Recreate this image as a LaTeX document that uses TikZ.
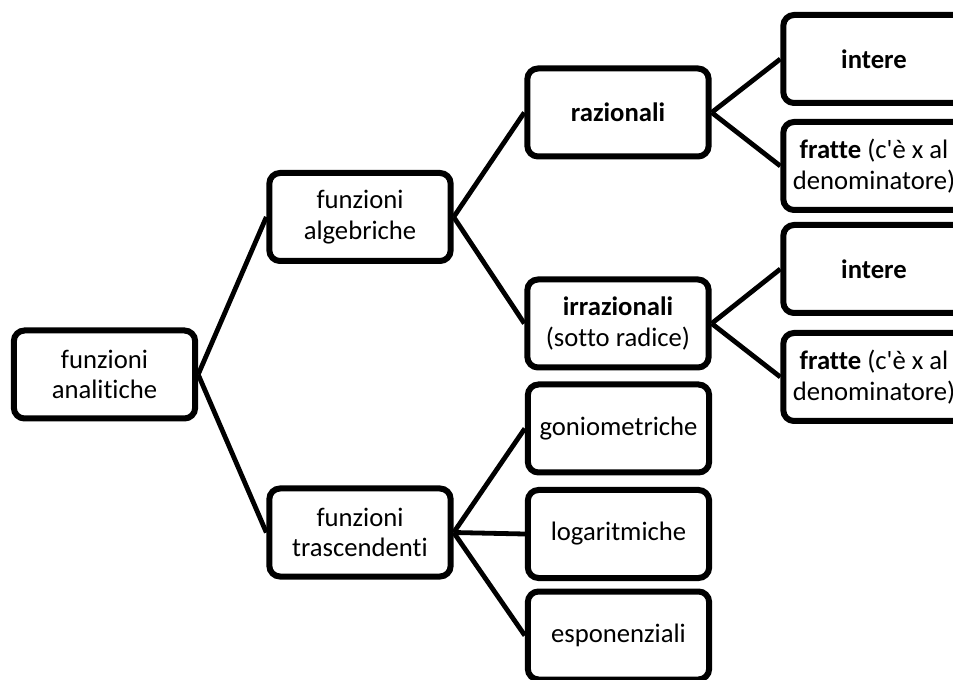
\documentclass[tikz,border=0pt]{standalone}
\usepackage{fontspec}
\setmainfont{Carlito}[Ligatures={NoCommon,TeXOff}]
\usepackage{tikz}
\usetikzlibrary{positioning}

\begin{document}
\begin{tikzpicture}[x=0.75pt, y=-0.75pt,
		box/.style={draw, line width=4.5pt, rounded corners=8pt, fill=white,
			minimum width=136pt, minimum height=66pt, align=center, inner sep=2pt,
			font=\fontsize{20}{23}\selectfont},
		link/.style={line width=3.6pt}]
				\useasboundingbox (0,0) rectangle (953,680);
				\clip (0,0) rectangle (953,680);

				\node[box] (analitiche) at (104.5, 374.5) {funzioni\\analitiche};
				\node[box] (algebriche) at (360, 217) {funzioni\\algebriche};
				\node[box] (trascendenti) at (360, 532.5) {funzioni\\trascendenti};
				\node[box] (razionali) at (618, 112.5) {\textbf{razionali}};
				\node[box] (irrazionali) at (618, 323.5) {\textbf{irrazionali}\\(sotto radice)};
				\node[box] (gonio) at (618.5, 428.5) {goniometriche};
				\node[box] (loga) at (618.5, 534) {logaritmiche};
				\node[box] (espo) at (618.5, 635.5) {esponenziali};
				\node[box] (intere1) at (874, 59) {\textbf{intere}};
				\node[box] (fratte1) at (874, 166) {\textbf{fratte} (c'è x al\\denominatore)};
				\node[box] (intere2) at (874, 269) {\textbf{intere}};
				\node[box] (fratte2) at (874, 377) {\textbf{fratte} (c'è x al\\denominatore)};

				\draw [link] (analitiche.east) to (algebriche.west);
				\draw [link] (analitiche.east) to (trascendenti.west);
				\draw [link] (algebriche.east) to (razionali.west);
				\draw [link] (algebriche.east) to (irrazionali.west);
				\draw [link] (trascendenti.east) to (gonio.west);
				\draw [link] (trascendenti.east) to (loga.west);
				\draw [link] (trascendenti.east) to (espo.west);
				\draw [link] (razionali.east) to (intere1.west);
				\draw [link] (razionali.east) to (fratte1.west);
				\draw [link] (irrazionali.east) to (intere2.west);
				\draw [link] (irrazionali.east) to (fratte2.west);
		\end{tikzpicture}
\end{document}
